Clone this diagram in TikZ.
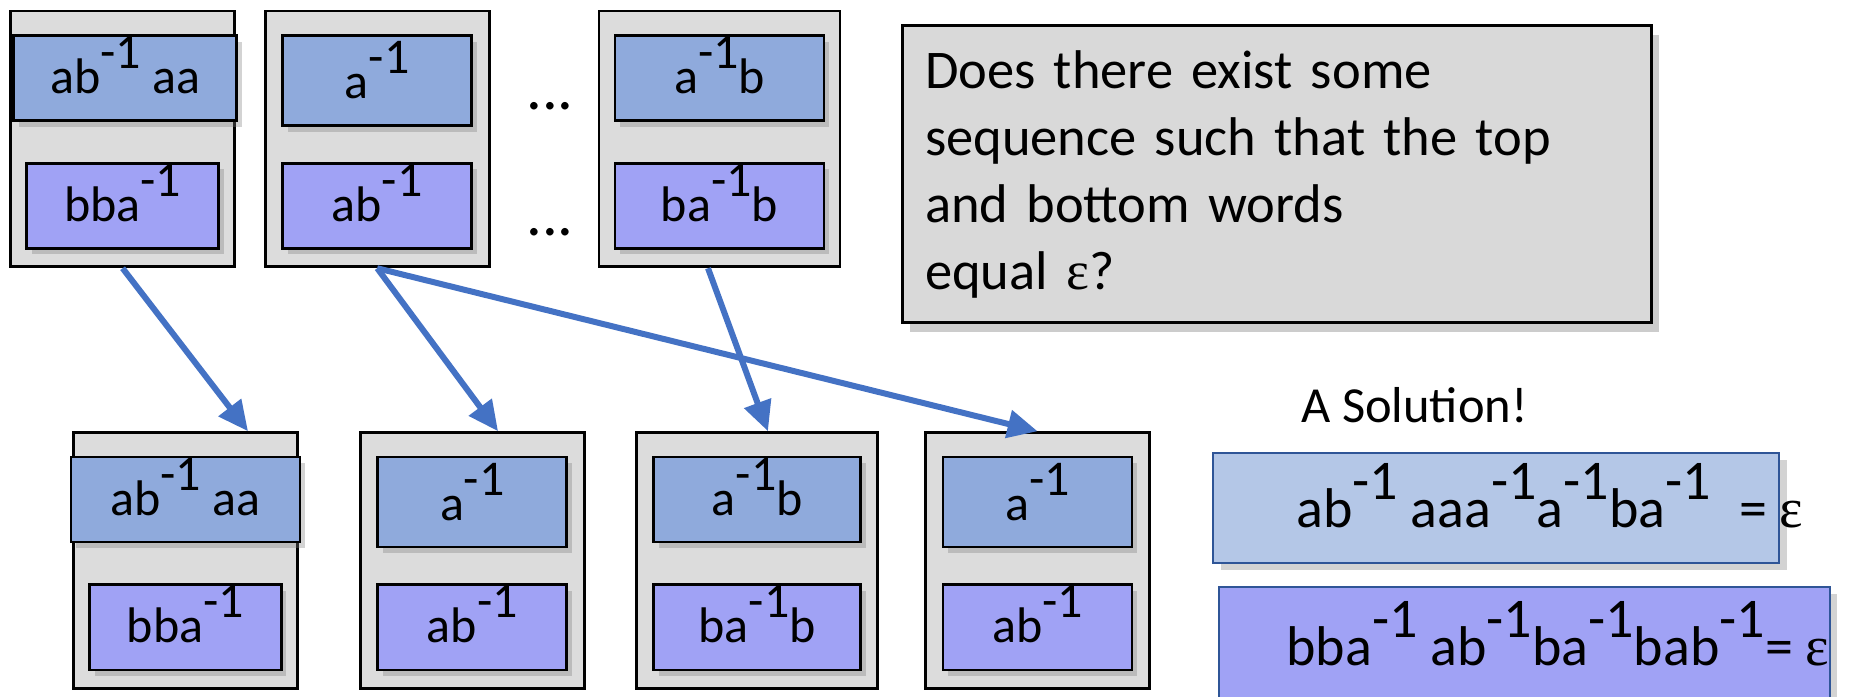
\documentclass[tikz,border=0pt]{standalone}
\usepackage{fontspec}
\setmainfont{Carlito}
\newfontfamily\epsfont{Liberation Serif}
\usetikzlibrary{positioning,shadows,arrows.meta}
\definecolor{cardgray}{HTML}{DCDCDC}
\definecolor{qgray}{HTML}{D9D9D9}
\definecolor{topblue}{HTML}{8FAADC}
\definecolor{lowviolet}{HTML}{A0A2F5}
\definecolor{solblue}{HTML}{B4C7E7}
\definecolor{solframe}{HTML}{2F5597}
\definecolor{arrowblue}{HTML}{4472C4}
\newcommand{\inv}{\raisebox{.5em}{-1}}
\begin{document}
\begin{tikzpicture}[x=0.4pt, y=-0.4pt,
  >={Triangle[length=12pt,width=11pt]},
  card/.style={draw, line width=1.1pt, fill=cardgray, inner sep=0pt,
    minimum width=89.6pt, minimum height=102.3pt},
  wide/.style={minimum width=96.4pt},
  word/.style={draw, line width=1.1pt, inner sep=0pt, text height=23.2pt,
    text depth=10.8pt, minimum width=75.6pt, font=\fontsize{20pt}{24pt}\selectfont,
    drop shadow={shadow xshift=2pt, shadow yshift=-2.4pt, opacity=.35}},
  upper/.style={word, fill=topblue},
  lower/.style={word, fill=lowviolet},
  tall/.style={text height=25.2pt},
  dots/.style={anchor=base, font=\fontsize{25pt}{30pt}\selectfont},
  question/.style={draw, line width=1.2pt, fill=qgray, inner xsep=9.2pt,
    minimum width=299.6pt, minimum height=118.8pt, text width=281.2pt, align=left,
    font=\fontsize{21.8pt}{26.8pt}\selectfont,
    drop shadow={shadow xshift=3pt, shadow yshift=-3.5pt, opacity=.4}},
  solbox/.style={draw=solframe, line width=.8pt,
    drop shadow={shadow xshift=3pt, shadow yshift=-3pt, opacity=.35}},
  soltext/.style={anchor=base west, inner sep=0pt, font=\fontsize{22.4pt}{26pt}\selectfont},
  arrow/.style={draw=arrowblue, line width=2.4pt, ->}]
\useasboundingbox (0,0) rectangle (1859,697);
% obere Reihe: Dominosteine
\node[card] (P1) at (122.6,139) {};
\node[card] (P2) at (377.2,139) {};
\node[card, wide] (P3) at (719.5,139) {};
\node[upper, minimum width=89.2pt, below=9.8pt of P1.north, xshift=1.1pt] (P1u) {ab\inv{} aa};
\node[lower, minimum width=76.8pt, above=7.4pt of P1.south] (P1l) {bba\inv};
\node[upper, tall, below=9.8pt of P2.north] (P2u) {a\inv};
\node[lower, above=7.4pt of P2.south] (P2l) {ab\inv};
\node[upper, minimum width=83.6pt, below=9.8pt of P3.north] (P3u) {a\inv b};
\node[lower, minimum width=83.6pt, above=7.4pt of P3.south] (P3l) {ba\inv b};
% Punkte
\node[dots] (d1) at (550,110) {...};
\node[dots] (d2) at (550,236) {...};
% Frage
\node[question] (Q) at (1276.5,174.5) {Does there exist some\\
  sequence such that the top\\ and bottom words\\ equal {\epsfont ε}?};
% untere Reihe: die Folge
\node[card] (Q1) at (185.5,560.5) {};
\node[card] (Q2) at (472.3,560.5) {};
\node[card, wide] (Q3) at (757.2,560.5) {};
\node[card] (Q4) at (1037.6,560.5) {};
\node[upper, minimum width=91.6pt, below=9.8pt of Q1.north] (Q1u) {ab\inv{} aa};
\node[lower, minimum width=76.6pt, above=7.4pt of Q1.south] (Q1l) {bba\inv};
\node[upper, tall, below=9.8pt of Q2.north] (Q2u) {a\inv};
\node[lower, above=7.4pt of Q2.south] (Q2l) {ab\inv};
\node[upper, minimum width=82.8pt, below=9.8pt of Q3.north] (Q3u) {a\inv b};
\node[lower, minimum width=82.8pt, above=7.4pt of Q3.south] (Q3l) {ba\inv b};
\node[upper, tall, below=9.8pt of Q4.north] (Q4u) {a\inv};
\node[lower, above=7.4pt of Q4.south] (Q4l) {ab\inv};
% Pfeile
\draw[arrow] (P1.south) -- ([xshift=25pt]Q1.north);
\draw[arrow] (P2.south) -- ([xshift=10.3pt]Q2.north);
\draw[arrow] ([xshift=-4.6pt]P3.south) -- ([xshift=4.3pt]Q3.north);
\draw[arrow] (P2.south) -- (Q4.north);
% Loesung
\node[anchor=base, font=\fontsize{20.2pt}{24pt}\selectfont] (sol) at (1414.5,423) {A Solution!};
\node[solbox, fill=solblue, minimum width=226.4pt, minimum height=44pt] (S1) at (1496,508) {};
\node[solbox, fill=lowviolet, minimum width=244.2pt, minimum height=53.2pt] (S2) at (1524.3,653.5) {};
\node[soltext] (w1) at (1296,528) {ab\inv{} aaa\inv a\inv ba\inv\hspace{.5em}= {\epsfont ε}};
\node[soltext] (w2) at (1286,665) {bba\inv{} ab\inv ba\inv bab\inv= {\epsfont ε}};
\end{tikzpicture}
\end{document}
